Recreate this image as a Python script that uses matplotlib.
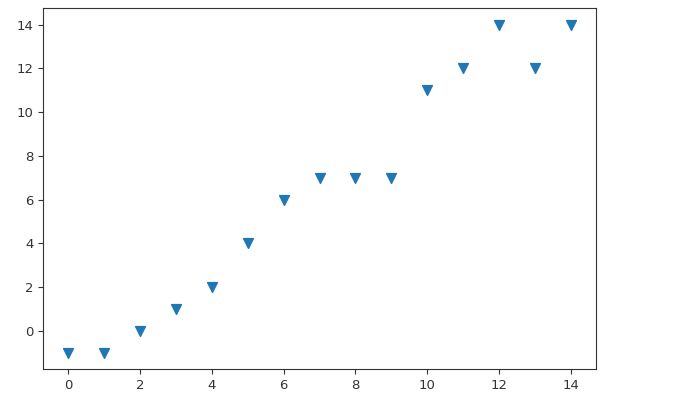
import matplotlib
matplotlib.use("Agg")
import matplotlib.pyplot as plt

x_values = list(range(15))
y_values = [-1, -1, 0, 1, 2, 4, 6, 7, 7, 7, 11, 12, 14, 12, 14]

fig = plt.figure(figsize=(6.76, 4.08), dpi=100)
ax = fig.add_axes([0.0636, 0.0956, 0.8181, 0.8844])
ax.scatter(x_values, y_values, marker="v", color="#1f77b4", s=50)
ax.set_xticks([0, 2, 4, 6, 8, 10, 12, 14])
ax.set_yticks([0, 2, 4, 6, 8, 10, 12, 14])
ax.tick_params(labelsize=9.5, colors="#333333")
for s in ax.spines.values():
    s.set_color("#333333")
fig.savefig("out.png", dpi=100)
